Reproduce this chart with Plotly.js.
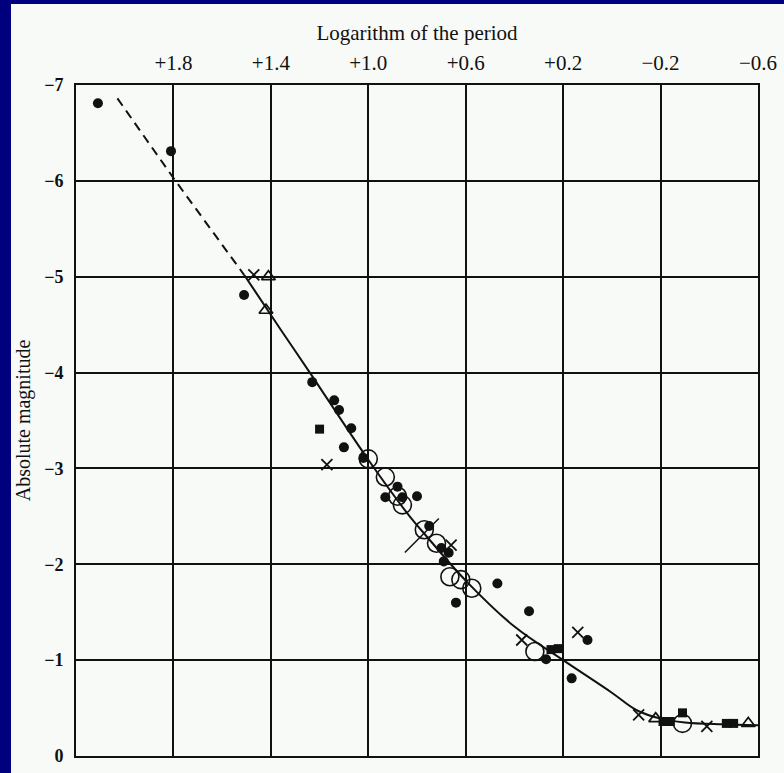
<!DOCTYPE html>
<html>
<head>
<meta charset="utf-8">
<script src="https://cdn.plot.ly/plotly-3.0.1.min.js"></script>
<style>html,body{margin:0;padding:0;background:#00007e;}#chart{width:784px;height:773px;}</style>
</head>
<body>
<div id="chart"></div>
<script>
// Period–luminosity relation (log period vs absolute magnitude)
const xTickVals = [1.8, 1.4, 1.0, 0.6, 0.2, -0.2, -0.6];
const xTickText = ['+1.8', '+1.4', '+1.0', '+0.6', '+0.2', '\u22120.2', '\u22120.6'];
const yTickVals = [-7, -6, -5, -4, -3, -2, -1, 0];
const yTickText = ['\u22127', '\u22126', '\u22125', '\u22124', '\u22123', '\u22122', '\u22121', '0'];

// fitted curve
const curveDashX = [2.03, 1.80, 1.51];
const curveDashY = [-6.86, -6.03, -5.02];
const curveX = [1.51, 1.36, 1.24, 1.0, 0.83, 0.76, 0.6, 0.4, 0.2, 0.0, -0.1, -0.2, -0.3, -0.45, -0.6];
const curveY = [-5.02, -4.45, -4.0, -3.09, -2.50, -2.29, -1.83, -1.35, -1.0, -0.66, -0.48, -0.39, -0.35, -0.33, -0.32];

// filled circles
const dotX = [2.11, 1.81, 1.51, 1.23, 1.14, 1.12, 1.07, 1.10, 1.02, 0.93, 0.88, 0.86, 0.80, 0.75, 0.70, 0.67, 0.69, 0.64, 0.47, 0.34, 0.27, 0.10, 0.165];
const dotY = [-6.81, -6.31, -4.81, -3.90, -3.71, -3.61, -3.42, -3.22, -3.11, -2.70, -2.81, -2.70, -2.71, -2.40, -2.17, -2.12, -2.03, -1.60, -1.80, -1.51, -1.01, -1.21, -0.81];

// filled squares
const sqX = [1.20, 0.25, 0.22, -0.21, -0.24, -0.29, -0.47, -0.50];
const sqY = [-3.41, -1.11, -1.12, -0.36, -0.36, -0.45, -0.34, -0.34];

// open circles
const ocX = [1.0, 0.93, 0.88, 0.86, 0.77, 0.72, 0.665, 0.62, 0.575, 0.316, -0.29];
const ocY = [-3.10, -2.91, -2.71, -2.62, -2.36, -2.22, -1.87, -1.84, -1.75, -1.09, -0.34];

// crosses
const crX = [1.47, 1.17, 0.66, 0.37, 0.14, -0.11, -0.39];
const crY = [-5.02, -3.04, -2.20, -1.21, -1.29, -0.43, -0.31];

// open triangles
const trX = [1.41, 1.42, -0.18, -0.56];
const trY = [-5.00, -4.65, -0.39, -0.34];

// long slash mark across curve
const slX = [0.78];
const slY = [-2.30];

const ink = '#111';
const traces = [
  {x: curveDashX, y: curveDashY, mode: 'lines', line: {color: ink, width: 2, dash: '9px,6px'}, hoverinfo: 'skip'},
  {x: curveX, y: curveY, mode: 'lines', line: {color: ink, width: 2, shape: 'spline', smoothing: 1}, hoverinfo: 'skip'},
  {x: ocX, y: ocY, mode: 'markers', marker: {symbol: 'circle-open', size: 18, color: ink, line: {width: 1.6, color: ink}}},
  {x: dotX, y: dotY, mode: 'markers', marker: {symbol: 'circle', size: 10, color: ink}},
  {x: sqX, y: sqY, mode: 'markers', marker: {symbol: 'square', size: 9, color: ink}},
  {x: crX, y: crY, mode: 'markers', marker: {symbol: 'x-thin-open', size: 11, color: ink, line: {width: 1.8, color: ink}}},
  {x: trX, y: trY, mode: 'markers', marker: {symbol: 'triangle-up-open', size: 12, color: ink, line: {width: 1.7, color: ink}}},
  {x: slX, y: slY, mode: 'markers', marker: {symbol: 'line-ne-open', size: 34, color: ink, line: {width: 1.5, color: ink}}}
];

const serif = '"Liberation Serif", "DejaVu Serif", serif';

const layout = {
  width: 784, height: 773,
  paper_bgcolor: '#00007e',
  plot_bgcolor: '#f8faf8',
  showlegend: false,
  margin: {l: 76, r: 26, t: 85, b: 17, pad: 0},
  font: {family: serif, color: ink},
  xaxis: {
    side: 'top',
    range: [2.2, -0.6],
    tickvals: xTickVals, ticktext: xTickText,
    showgrid: true, gridcolor: ink, gridwidth: 2,
    zeroline: false,
    showline: true, mirror: true, linecolor: ink, linewidth: 2,
    ticks: '', ticklabelstandoff: 5,
    tickfont: {family: serif, size: 21, color: ink},
    title: {text: 'Logarithm of the period', font: {family: serif, size: 21, color: ink}, standoff: 4}
  },
  yaxis: {
    range: [0, -7],
    tickvals: yTickVals, ticktext: yTickText,
    showgrid: true, gridcolor: ink, gridwidth: 2,
    zeroline: false,
    showline: true, mirror: true, linecolor: ink, linewidth: 2,
    ticks: '', ticklabelstandoff: 7,
    tickfont: {family: serif, size: 18, color: ink, weight: 'bold'},
    title: {text: 'Absolute magnitude', font: {family: serif, size: 20, color: ink}, standoff: 8}
  },
  shapes: [
    {type: 'rect', xref: 'paper', yref: 'paper', layer: 'below',
     x0: -0.0953, x1: 1.06, y0: -0.06, y1: 1.1207,
     fillcolor: '#f8faf8', line: {width: 0}}
  ]
};

Plotly.newPlot('chart', traces, layout, {displayModeBar: false, staticPlot: true});
</script>
</body>
</html>
